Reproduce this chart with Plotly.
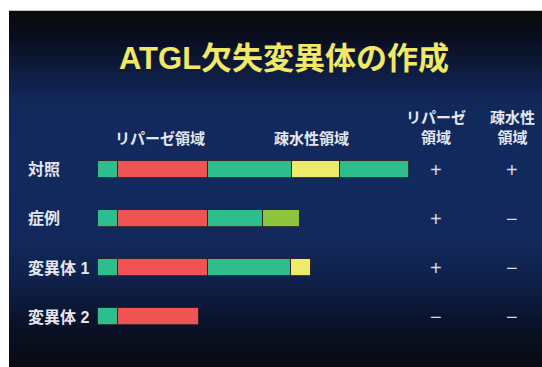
import plotly.graph_objects as go

# Constructs (rows, top to bottom)
constructs = ["対照", "症例", "変異体 1", "変異体 2"]

# Segment lengths in amino acids, left to right along each construct
seg_nterm = [33, 33, 33, 33]          # N-terminal region
seg_lipase = [145, 145, 145, 131]     # lipase (patatin) domain
seg_middle = [136, 89, 135, 0]        # central region
seg_hydro = [79, 61, 32, 0]           # hydrophobic / altered stretch
seg_cterm = [111, 0, 0, 0]            # C-terminal region

# Colours of the fourth segment for each construct
hydro_colors = ["#eeea6a", "#8cc43e", "#eeea6a", "#eeea6a"]

# Activity table columns
lipase_activity = ["+", "+", "+", "−"]
hydrophobic_activity = ["+", "−", "−", "−"]

# Header texts
title_text = "ATGL欠失変異体の作成"
lipase_header = "リパーゼ領域"
hydro_header = "疎水性領域"
col1_header = "リパーゼ<br>領域"
col2_header = "疎水性<br>領域"

W, H = 542, 367
GREEN = "#2ebd8c"
RED = "#ef5353"
EDGE = dict(color="rgba(45,35,40,0.85)", width=1)

fig = go.Figure()
segments = [
    (seg_nterm, GREEN),
    (seg_lipase, RED),
    (seg_middle, GREEN),
    (seg_hydro, hydro_colors),
    (seg_cterm, GREEN),
]
for vals, col in segments:
    fig.add_trace(go.Bar(
        y=constructs, x=vals, orientation="h",
        marker=dict(color=col, line=EDGE),
        width=0.36, showlegend=False, hoverinfo="skip",
    ))


def px(x):
    return x / W


def py(y):
    return 1 - y / H


# Slide background: vertical gradient black -> navy -> black
stops = [(11, (10, 10, 13)), (35, (10, 13, 26)), (65, (13, 26, 58)),
         (100, (18, 40, 90)), (150, (19, 42, 95)), (240, (19, 41, 92)),
         (275, (16, 34, 78)), (305, (12, 24, 56)), (335, (10, 15, 34)),
         (372, (9, 10, 18))]


def color_at(y):
    for (y0, c0), (y1, c1) in zip(stops[:-1], stops[1:]):
        if y0 <= y <= y1:
            t = (y - y0) / (y1 - y0)
            return "rgb(%d,%d,%d)" % tuple(round(a + (b - a) * t) for a, b in zip(c0, c1))
    return "rgb(%d,%d,%d)" % stops[-1][1]


shapes = []
step = 3
y = 11
while y < H + 5:
    y2 = y + step
    shapes.append(dict(type="rect", xref="paper", yref="paper",
                       x0=px(9), x1=px(W + 10), y0=py(y2), y1=py(y) + 0.001,
                       fillcolor=color_at((y + y2) / 2), line=dict(width=0),
                       layer="below"))
    y = y2

LABEL = "#e4e7f0"
CJK = "Liberation Sans, Noto Sans CJK JP, sans-serif"
ann = []
ann.append(dict(text="<b>%s</b>" % title_text, x=px(284), y=py(58),
                font=dict(size=31, color="#f0e866", family=CJK)))
ann.append(dict(text="<b>%s</b>" % lipase_header, x=px(160), y=py(139),
                font=dict(size=15, color=LABEL, family=CJK)))
ann.append(dict(text="<b>%s</b>" % hydro_header, x=px(311), y=py(139),
                font=dict(size=15, color=LABEL, family=CJK)))
ann.append(dict(text="<b>%s</b>" % col1_header, x=px(436), y=py(127),
                font=dict(size=15, color=LABEL, family=CJK)))
ann.append(dict(text="<b>%s</b>" % col2_header, x=px(512), y=py(127),
                font=dict(size=15, color=LABEL, family=CJK)))
for a in ann:
    a.update(xref="paper", yref="paper", showarrow=False,
             xanchor="center", yanchor="middle")

for name, la, ha in zip(constructs, lipase_activity, hydrophobic_activity):
    ann.append(dict(text="<b>%s</b>" % name, xref="paper", yref="y",
                    x=px(26), y=name, xanchor="left", yanchor="middle",
                    showarrow=False,
                    font=dict(size=16, color=LABEL, family=CJK)))
    for xpos, sym in ((436, la), (512, ha)):
        ann.append(dict(text=sym, xref="paper", yref="y", x=px(xpos), y=name,
                        xanchor="center", yanchor="middle", showarrow=False,
                        font=dict(size=20, color="#d6dae6",
                                  family="Liberation Sans, sans-serif")))

# Axis scale: construct start at x=98 px, 0.617 px per amino acid
scale = 0.617
x_start = 98
fig.update_layout(
    width=W, height=H,
    margin=dict(l=0, r=0, t=0, b=0),
    paper_bgcolor="white",
    plot_bgcolor="rgba(0,0,0,0)",
    barmode="stack",
    bargap=0,
    shapes=shapes,
    annotations=ann,
    xaxis=dict(visible=False, range=[-x_start / scale, (W - x_start) / scale]),
    yaxis=dict(visible=False, type="category", categoryorder="array",
               categoryarray=constructs,
               range=[(H - 169.5) / 49, -169.5 / 49]),
)

fig.write_html("out.html")
